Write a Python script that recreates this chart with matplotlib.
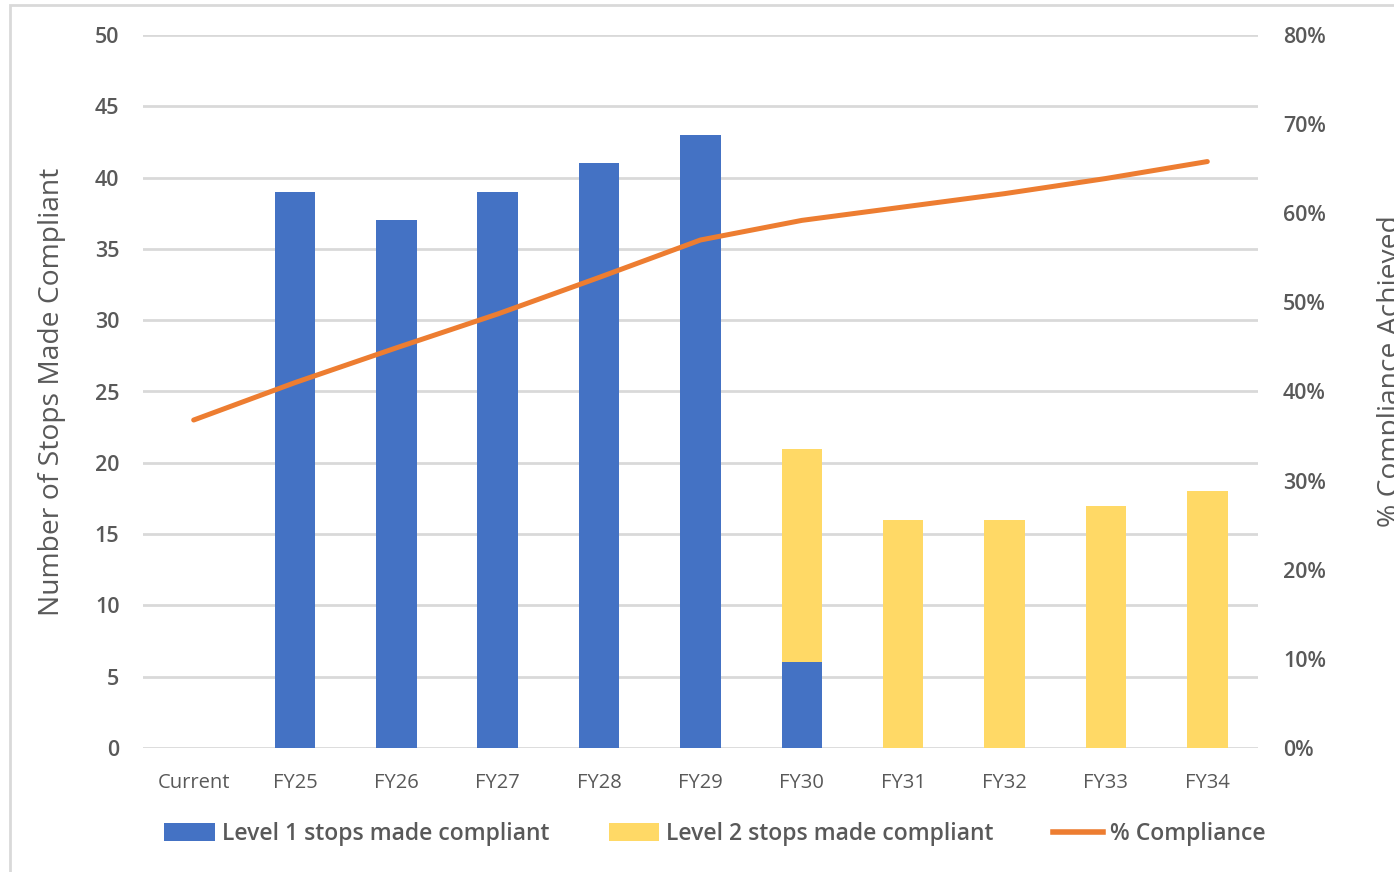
import numpy as np
import matplotlib
matplotlib.use("Agg")
import matplotlib.pyplot as plt
from matplotlib.patches import Rectangle
from matplotlib.lines import Line2D
from matplotlib.patches import Patch

plt.rcParams['font.family'] = ['Open Sans', 'DejaVu Sans']

years = ['Current', 'FY25', 'FY26', 'FY27', 'FY28', 'FY29',
         'FY30', 'FY31', 'FY32', 'FY33', 'FY34']
level1 = [0, 39, 37, 39, 41, 43, 6, 0, 0, 0, 0]
level2 = [0, 0, 0, 0, 0, 0, 15, 16, 16, 17, 18]
compliance = [36.8, 41.0, 44.9, 48.7, 52.8, 57.0, 59.2, 60.7, 62.2, 63.9, 65.8]

blue = '#4472C4'
yellow = '#FFD966'
orange = '#ED7D31'
grey = '#595959'
gridc = '#D9D9D9'

fig = plt.figure(figsize=(13.94, 8.72), dpi=100)
ax = fig.add_axes([143/1394, 1 - 748/872, (1258 - 143)/1394, (748 - 35)/872])
ax2 = ax.twinx()

x = np.arange(len(years))
ax.bar(x, level1, width=0.4, color=blue, zorder=3)
ax.bar(x, level2, width=0.4, bottom=level1, color=yellow, zorder=3)
ax2.plot(x, compliance, color=orange, lw=3.6, solid_capstyle='round', zorder=4)

ax.set_xlim(-0.5, len(years) - 0.5)
ax.set_ylim(0, 50)
ax.set_yticks(np.arange(0, 51, 5))
ax2.set_ylim(0, 80)
ax2.set_yticks(np.arange(0, 81, 10))
ax2.set_yticklabels([f'{v}%' for v in range(0, 81, 10)])

ax.set_xticks(x)
ax.set_xticklabels(years)
ax.grid(axis='y', color=gridc, lw=2, zorder=0)
ax.set_axisbelow(True)

for a in (ax, ax2):
    for s in a.spines.values():
        s.set_visible(False)
ax.tick_params(axis='x', length=0, pad=18, labelsize=14.5, labelcolor=grey)
ax.tick_params(axis='y', length=0, pad=17, labelsize=15.5, labelcolor=grey)
ax2.tick_params(axis='y', length=0, pad=18, labelsize=15.5, labelcolor=grey)
for lbl in ax.get_yticklabels() + ax2.get_yticklabels():
    lbl.set_fontweight('semibold')

ax.set_ylabel('Number of Stops Made Compliant', fontsize=20.3, color=grey)
ax.yaxis.set_label_coords((66 - 143) / 1115, 0.5)
fig.text(1391/1394, 1 - 371/872, '% Compliance Achieved', rotation=90,
         fontsize=20.3, color=grey, ha='center', va='center')

handles = [Patch(facecolor=blue), Patch(facecolor=yellow),
           Line2D([0], [0], color=orange, lw=4)]
leg = fig.legend(handles, ['Level 1 stops made compliant', 'Level 2 stops made compliant',
                           '% Compliance'],
                 loc='center', bbox_to_anchor=(715/1394, 1 - 834/872), ncol=3,
                 frameon=False, handlelength=2.2, handleheight=0.8, handletextpad=0.3,
                 columnspacing=2.6,
                 prop={'size': 16.5, 'weight': 'semibold'})
for t in leg.get_texts():
    t.set_color(grey)

# outer chart border
fig.patches.append(Rectangle((10/1394, -0.1), 1.2, 1 - 5/872 + 0.1,
                             transform=fig.transFigure, fill=False,
                             edgecolor=gridc, lw=2))

fig.savefig('out.png', dpi=100)
